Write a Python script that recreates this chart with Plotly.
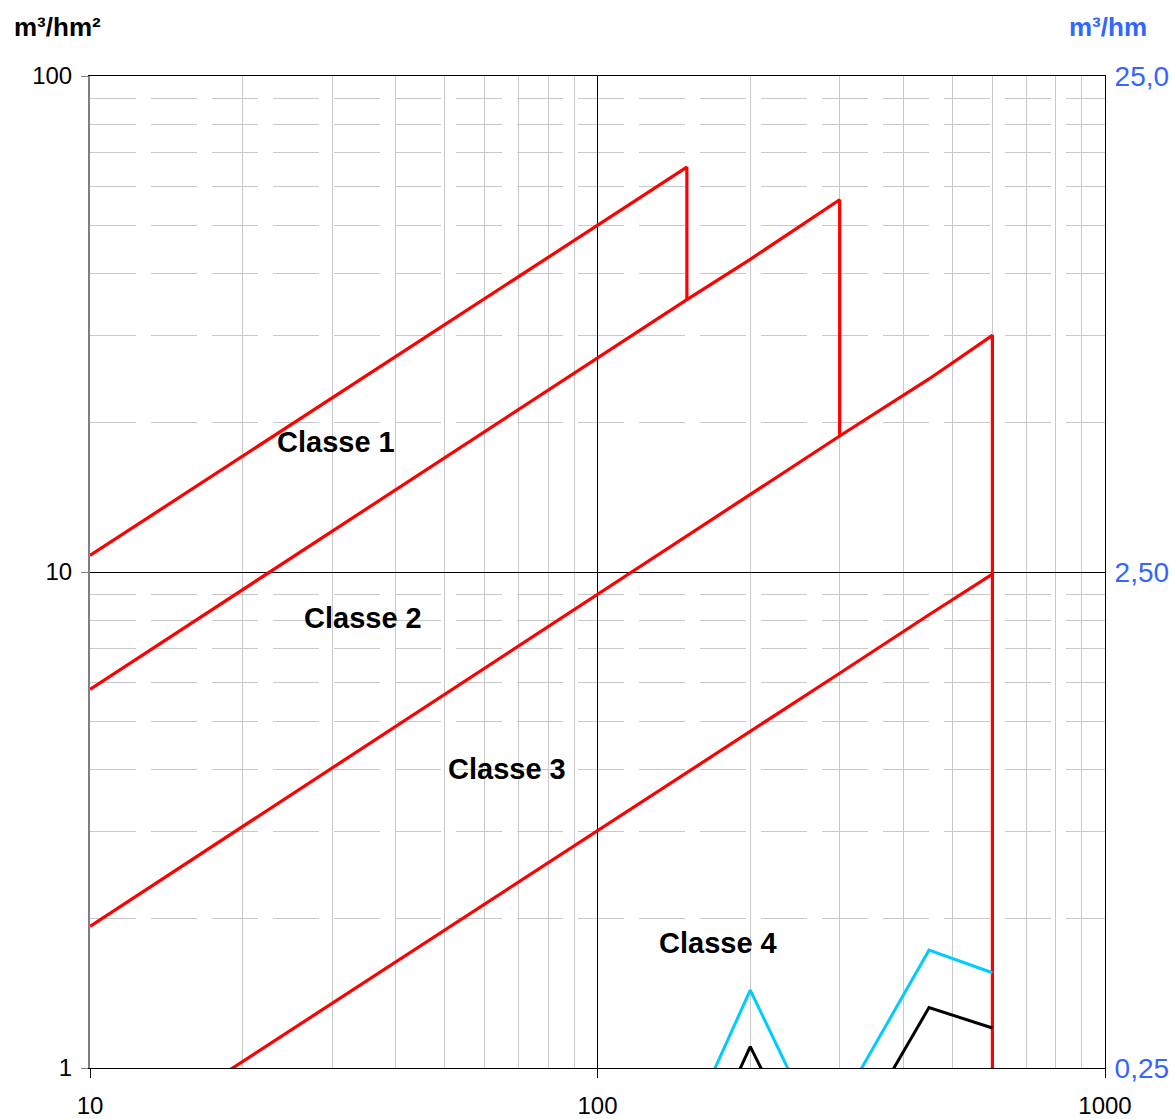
import plotly.graph_objects as go

# ---- data ----
X_C1 = [10, 100, 150, 150]
Y_C1 = [10.8, 50.0, 65.5, 35.4]

X_C2 = [10, 100, 150, 200, 300, 300]
Y_C2 = [5.8, 27.0, 35.4, 42.7, 56.3, 18.8]

X_C3 = [10, 100, 150, 200, 300, 450, 600, 600]
Y_C3 = [1.93, 9.0, 11.8, 14.3, 18.8, 24.5, 30.0, 0.5]

X_C4 = [10, 100, 150, 200, 300, 450, 600]
Y_C4 = [0.65, 3.0, 3.93, 4.77, 6.25, 8.2, 9.9]

# right-axis series (m3/hm)
X_Q = [150, 200, 250, 300, 450, 600]
Y_CYAN = [0.187, 0.359, 0.223, 0.209, 0.432, 0.389]
Y_BLACK = [0.146, 0.276, 0.175, 0.162, 0.331, 0.301]

CLASS_LABELS = ["Classe 1", "Classe 2", "Classe 3", "Classe 4"]
LEFT_TICKS = [1, 10, 100]
LEFT_TICKTEXT = ["1", "10", "100"]
RIGHT_TICKS = [0.25, 2.5, 25]
RIGHT_TICKTEXT = ["0,25", "2,50", "25,0"]
X_TICKS = [10, 100, 1000]
X_TICKTEXT = ["10", "100", "1000"]

FONT = "Arial, 'Liberation Sans', sans-serif"
RED = "#FF0000"
CYAN = "#00CCFF"
BLUE = "#3366FF"

fig = go.Figure()
for xs, ys in [(X_C1, Y_C1), (X_C2, Y_C2), (X_C3, Y_C3), (X_C4, Y_C4)]:
    fig.add_trace(go.Scatter(x=xs, y=ys, mode="lines",
                             line=dict(color=RED, width=3.2),
                             hoverinfo="skip", showlegend=False))
fig.add_trace(go.Scatter(x=X_Q, y=Y_CYAN, mode="lines", yaxis="y2",
                         line=dict(color=CYAN, width=3), showlegend=False))
fig.add_trace(go.Scatter(x=X_Q, y=Y_BLACK, mode="lines", yaxis="y2",
                         line=dict(color="black", width=3), showlegend=False))

# Class label positions (log10 axis coordinates)
label_pos = [(1.4847, 1.2611), (1.5379, 0.9073), (1.8217, 0.6028), (2.2365, 0.2524)]
annotations = []
for txt, (lx, ly) in zip(CLASS_LABELS, label_pos):
    annotations.append(dict(x=lx, y=ly, xref="x", yref="y", text="<b>%s</b>" % txt,
                            showarrow=False, xanchor="center", yanchor="middle",
                            font=dict(family=FONT, size=29, color="black")))
annotations.append(dict(x=-0.0769, y=1.0494, xref="paper", yref="paper",
                        text="<b>m³/hm²</b>", showarrow=False,
                        xanchor="left", yanchor="middle",
                        font=dict(family=FONT, size=26, color="black")))
annotations.append(dict(x=1.0433, y=1.0494, xref="paper", yref="paper",
                        text="<b>m³/hm</b>", showarrow=False,
                        xanchor="right", yanchor="middle",
                        font=dict(family=FONT, size=26, color=BLUE)))

fig.update_layout(
    width=1175, height=1119,
    margin=dict(l=90, r=70, t=76, b=51, pad=0, autoexpand=False),
    paper_bgcolor="white", plot_bgcolor="white",
    font=dict(family=FONT, color="black"),
    showlegend=False,
    annotations=annotations,
    xaxis=dict(type="log", range=[1, 3], automargin=False,
               tickmode="array", tickvals=X_TICKS, ticktext=X_TICKTEXT,
               tickfont=dict(size=24, color="black"),
               ticks="outside", ticklen=9, tickcolor="black", tickwidth=1,
               showline=True, linecolor="black", linewidth=1, mirror=True,
               showgrid=True, gridcolor="black", gridwidth=1,
               minor=dict(dtick="D1", showgrid=True, gridcolor="#C8C8C8",
                          gridwidth=1, ticks=""),
               zeroline=False, ticklabelstandoff=7),
    yaxis=dict(type="log", range=[0, 2], automargin=False,
               tickmode="array", tickvals=LEFT_TICKS, ticktext=LEFT_TICKTEXT,
               tickfont=dict(size=24, color="black"),
               ticks="outside", ticklen=7, tickcolor="#808080", tickwidth=1,
               showline=True, linecolor="#7F7F7F", linewidth=2,
               showgrid=True, gridcolor="black", gridwidth=1,
               minor=dict(dtick="D1", showgrid=True, gridcolor="#C8C8C8",
                          gridwidth=1, griddash="46px,15px", ticks=""),
               zeroline=False, ticklabelstandoff=4),
    yaxis2=dict(type="log", range=[-0.60206, 1.39794], overlaying="y", side="right",
                automargin=False,
                tickmode="array", tickvals=RIGHT_TICKS, ticktext=RIGHT_TICKTEXT,
                tickfont=dict(size=28, color=BLUE),
                ticks="", showline=True, linecolor="black", linewidth=1,
                showgrid=False, zeroline=False, ticklabelstandoff=3),
)

fig.write_html("out.html")
